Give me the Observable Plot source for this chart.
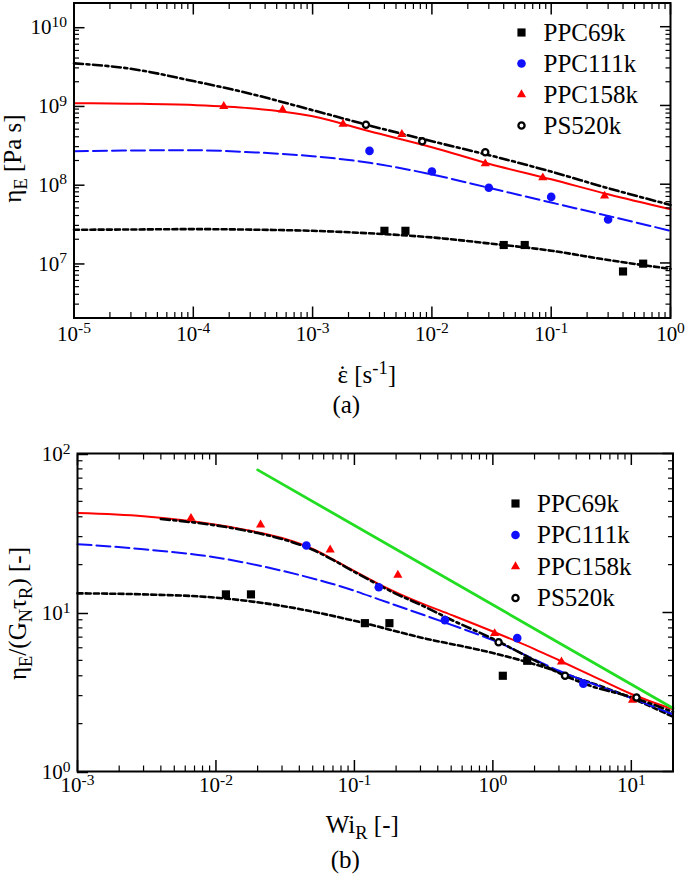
<!DOCTYPE html>
<html>
<head>
<meta charset="utf-8">
<script src="https://cdn.jsdelivr.net/npm/d3@7"></script>
<script src="https://cdn.jsdelivr.net/npm/@observablehq/plot@0.6"></script>
<style>
  html, body { margin: 0; padding: 0; background: #fff; }
  #chart svg { display: block; }
  #chart svg text { font-family: "Liberation Serif", serif; }
</style>
</head>
<body>
<div id="chart"></div>
<script>
// ---------------- DATA ----------------
const seriesNames = ["PPC69k", "PPC111k", "PPC158k", "PS520k"];

// Panel (a): elongational viscosity vs strain rate
const a69kX  = [0.0040, 0.0060, 0.040, 0.060, 0.40, 0.59];
const a69kY  = [2.56e7, 2.56e7, 1.69e7, 1.69e7, 7.8e6, 9.8e6];
const a111kX = [0.0030, 0.010, 0.030, 0.10, 0.30];
const a111kY = [2.65e8, 1.45e8, 9.0e7, 6.9e7, 3.56e7];
const a158kX = [1.8e-4, 5.6e-4, 1.8e-3, 5.6e-3, 0.028, 0.085, 0.28];
const a158kY = [9.75e8, 8.8e8, 5.8e8, 4.3e8, 1.82e8, 1.21e8, 7.1e7];
const a520kX = [2.8e-3, 8.3e-3, 0.028];
const a520kY = [5.7e8, 3.5e8, 2.55e8];

// Panel (a) model curves
const aCurveX    = [1e-5, 3e-5, 1e-4, 3e-4, 1e-3, 3e-3, 1e-2, 3e-2, 0.1, 0.3, 1];
const aCurve69k  = [2.64e7, 2.66e7, 2.69e7, 2.65e7, 2.56e7, 2.38e7, 2.11e7, 1.77e7, 1.43e7, 1.09e7, 8.4e6];
const aCurve111k = [2.63e8, 2.68e8, 2.70e8, 2.55e8, 2.27e8, 1.87e8, 1.33e8, 9.0e7, 5.85e7, 3.96e7, 2.56e7];
const aCurve158k = [1.069e9, 1.052e9, 1.012e9, 9.23e8, 7.28e8, 4.70e8, 2.95e8, 1.82e8, 1.153e8, 7.45e7, 4.80e7];
const aCurve520k = [3.43e9, 2.92e9, 2.04e9, 1.41e9, 8.71e8, 5.56e8, 3.51e8, 2.34e8, 1.445e8, 8.9e7, 5.46e7];

// Panel (b): normalised viscosity vs Rouse Weissenberg number
const b69kX  = [0.0118, 0.0179, 0.119, 0.179, 1.18, 1.77];
const b69kY  = [13.0, 13.0, 8.57, 8.57, 4.0, 4.97];
const b111kX = [0.045, 0.15, 0.45, 1.5, 4.5];
const b111kY = [26.4, 14.4, 8.95, 6.9, 3.57];
const b158kX = [0.0066, 0.021, 0.0668, 0.206, 1.03, 3.13, 10.2];
const b158kY = [39.2, 35.6, 24.8, 17.2, 7.38, 4.9, 2.81];
const b520kX = [1.10, 3.32, 10.9];
const b520kY = [6.5, 4.0, 2.92];

// Panel (b) model curves
const b69kCurveX  = [1e-3, 3e-3, 1e-2, 3e-2, 0.1, 0.3, 1, 2, 3, 10, 20];
const b69kCurve   = [13.2, 13.0, 12.4, 11.0, 8.87, 6.97, 5.56, 4.73, 4.22, 2.9, 2.21];
const b111kCurveX = [1e-3, 3e-3, 1e-2, 3e-2, 0.1, 0.15, 0.45, 1, 3, 10, 20];
const b111kCurve  = [26.9, 25.0, 22.2, 18.3, 13.7, 12.1, 8.65, 6.7, 4.3, 2.9, 2.29];
const b158kCurveX = [1e-3, 3e-3, 0.01, 0.02, 0.03, 0.05, 0.07, 0.1, 0.15, 0.2, 0.3, 0.5, 1, 2, 3, 5, 10, 20];
const b158kCurve  = [42.2, 40.3, 35.7, 32.0, 29.4, 25.1, 21.6, 18.2, 15.1, 13.4, 11.5, 9.66, 7.59, 5.89, 5.01, 4.07, 3.07, 2.46];
const b520kCurveX = [4e-3, 0.01, 0.02, 0.03, 0.05, 0.07, 0.1, 0.15, 0.2, 0.3, 0.5, 1, 2, 3.32, 5, 10, 20];
const b520kCurve  = [38.7, 35.3, 31.6, 29.0, 24.8, 21.4, 18.0, 14.9, 13.1, 11.2, 9.0, 6.84, 5.0, 4.0, 3.47, 2.94, 2.37];
const bSlopeX = [0.020, 20];
const bSlopeY = [78.9, 2.5];

// Ticks
const aXMajor = [1e-5, 1e-4, 1e-3, 1e-2, 1e-1, 1];
const aYMajor = [1e7, 1e8, 1e9, 1e10];
const bXMajor = [1e-3, 1e-2, 1e-1, 1, 10];
const bYMajor = [1, 10, 100];
const minorMult = [2, 3, 4, 5, 6, 7, 8, 9];

// ---------------- STYLES ----------------
const STY = {
  PPC69k:  {color: "#000000", symbol: "square",   r: 4.6, fill: "#000000", dash: "5,3.2",       width: 2.6},
  PPC111k: {color: "#1010ff", symbol: "circle",   r: 4.3, fill: "#1010ff", dash: "14,5",        width: 2.0},
  PPC158k: {color: "#ff0000", symbol: "triangle", r: 3.4, fill: "#ff0000", dash: null,          width: 2.0},
  PS520k:  {color: "#000000", symbol: "circle",   r: 3.1, fill: "#ffffff", dash: "9,3.5,3,3.5", width: 2.6}
};
const GREEN = "#22dd22";
const FONT = "Liberation Serif";
const SVG_STYLE = "font-family: 'Liberation Serif', serif; font-size: 21px; background: white; overflow: visible;";

// ---------------- HELPERS ----------------
const pts = (xs, ys) => xs.map((x, i) => [x, ys[i]]);
function minors(major, lo, hi) {
  const out = [];
  for (const m of [major[0] / 10, ...major]) for (const k of minorMult) {
    const v = m * k;
    if (v > lo * 1.0001 && v < hi * 0.9999) out.push(v);
  }
  return out;
}
const fmtPow = d => "10^" + Math.round(Math.log10(d));
const blank = () => "";

function axisMarks(xMajor, yMajor, xDom, yDom, xPad, yPad) {
  const xMinor = minors(xMajor, xDom[0], xDom[1]);
  const yMinor = minors(yMajor, yDom[0], yDom[1]);
  return [
    Plot.axisX({ticks: xMajor, tickSize: -11, tickPadding: xPad, tickFormat: fmtPow, label: null, fontSize: 21, fontFamily: FONT, strokeWidth: 1.5}),
    Plot.axisX({ticks: xMinor, tickSize: -5.5, tickFormat: blank, label: null, strokeWidth: 1.2}),
    Plot.axisX({anchor: "top", ticks: xMajor, tickSize: -11, tickFormat: blank, label: null, strokeWidth: 1.5}),
    Plot.axisX({anchor: "top", ticks: xMinor, tickSize: -5.5, tickFormat: blank, label: null, strokeWidth: 1.2}),
    Plot.axisY({ticks: yMajor, tickSize: -11, tickPadding: yPad, tickFormat: fmtPow, label: null, fontSize: 21, fontFamily: FONT, strokeWidth: 1.5, dy: 1}),
    Plot.axisY({ticks: yMinor, tickSize: -5.5, tickFormat: blank, label: null, strokeWidth: 1.2}),
    Plot.axisY({anchor: "right", ticks: yMajor, tickSize: -11, tickFormat: blank, label: null, strokeWidth: 1.5}),
    Plot.axisY({anchor: "right", ticks: yMinor, tickSize: -5.5, tickFormat: blank, label: null, strokeWidth: 1.2})
  ];
}

function curveMark(data, name) {
  const s = STY[name];
  return Plot.line(data, {stroke: s.color, strokeWidth: s.width, strokeDasharray: s.dash || undefined, curve: "monotone-x"});
}
function dotMark(data, name) {
  const s = STY[name];
  const o = {symbol: s.symbol, r: s.r, fill: s.fill};
  if (name === "PS520k") { o.stroke = s.color; o.strokeWidth = 2.3; }
  return Plot.dot(data, o);
}
function legendMarks(dxSym, dxText, dy0, step) {
  const marks = [];
  seriesNames.forEach((name, i) => {
    const s = STY[name];
    const o = {frameAnchor: "top-right", dx: dxSym, dy: dy0 + step * i, symbol: s.symbol, r: s.r, fill: s.fill};
    if (name === "PS520k") { o.stroke = s.color; o.strokeWidth = 2.3; }
    marks.push(Plot.dot([name], o));
    marks.push(Plot.text([name], {frameAnchor: "top-right", dx: dxText, dy: dy0 + step * i, text: d => d,
      textAnchor: "start", lineAnchor: "middle", fontSize: 25, fontFamily: FONT, fill: "black"}));
  });
  return marks;
}
function label(str, o) {
  return Plot.text([str], {text: d => d, textAnchor: "middle", lineAnchor: "bottom", fontSize: 25, fontFamily: FONT, fill: "black", ...o});
}

// Rich text: replace a text element's content with tspans (superscripts / subscripts / shifted marks)
function richText(el, parts, fs) {
  const t = d3.select(el);
  t.text(null);
  let off = 0;
  for (const [str, kind, dxEm] of parts) {
    const target = kind === "sup" ? -fs * 0.36 : kind === "sub" ? fs * 0.24 : 0;
    const sp = t.append("tspan").text(str);
    if (target - off !== 0) sp.attr("dy", (target - off) + "px");
    if (dxEm) sp.attr("dx", (dxEm * fs) + "px");
    if (kind === "sup" || kind === "sub") sp.attr("font-size", (fs * 0.74) + "px");
    off = target;
  }
}
function postProcess(svg, labelMap) {
  d3.select(svg).selectAll("text").each(function () {
    this.setAttribute("font-family", FONT);
    const c = this.textContent;
    const m = /^10\^(-?\d+)$/.exec(c);
    if (m) {
      richText(this, [["10", null], [m[1], "sup"]], 21);
    } else if (labelMap[c]) {
      richText(this, labelMap[c].parts, labelMap[c].fs);
    }
  });
}

// ---------------- PANEL (a) ----------------
const aXDom = [1e-5, 1];
const aYDom = [2e6, 2e10];
const labAy = "ηE [Pa s]";
const labAx = "ε̇ [s-1]";

const plotA = Plot.plot({
  width: 685, height: 430,
  marginLeft: 73.5, marginRight: 15, marginTop: 2.5, marginBottom: 112.5,
  style: SVG_STYLE,
  x: {type: "log", domain: aXDom},
  y: {type: "log", domain: aYDom},
  marks: [
    curveMark(pts(aCurveX, aCurve69k), "PPC69k"),
    curveMark(pts(aCurveX, aCurve111k), "PPC111k"),
    curveMark(pts(aCurveX, aCurve158k), "PPC158k"),
    curveMark(pts(aCurveX, aCurve520k), "PS520k"),
    dotMark(pts(a69kX, a69kY), "PPC69k"),
    dotMark(pts(a111kX, a111kY), "PPC111k"),
    dotMark(pts(a158kX, a158kY), "PPC158k"),
    dotMark(pts(a520kX, a520kY), "PS520k"),
    ...axisMarks(aXMajor, aYMajor, aXDom, aYDom, 19, 18),
    Plot.frame({stroke: "black", strokeWidth: 2}),
    ...legendMarks(-149, -127, 29.5, 31),
    label(labAy, {frameAnchor: "left", dx: -53.5, dy: -2, rotate: -90}),
    label(labAx, {frameAnchor: "bottom", dx: -5.5, dy: 64.5}),
    label("(a)", {frameAnchor: "bottom", dx: -26, dy: 94.5})
  ]
});

// ---------------- PANEL (b) ----------------
const bXDom = [1e-3, 20];
const bYDom = [1, 100];
const labBy = "ηE/(GNτR) [-]";
const labBx = "WiR [-]";

const plotB = Plot.plot({
  width: 685, height: 444,
  marginLeft: 77, marginRight: 12.5, marginTop: 23, marginBottom: 103,
  style: SVG_STYLE,
  x: {type: "log", domain: bXDom},
  y: {type: "log", domain: bYDom},
  marks: [
    curveMark(pts(b69kCurveX, b69kCurve), "PPC69k"),
    curveMark(pts(b111kCurveX, b111kCurve), "PPC111k"),
    curveMark(pts(b158kCurveX, b158kCurve), "PPC158k"),
    curveMark(pts(b520kCurveX, b520kCurve), "PS520k"),
    Plot.line(pts(bSlopeX, bSlopeY), {stroke: GREEN, strokeWidth: 2.8}),
    dotMark(pts(b69kX, b69kY), "PPC69k"),
    dotMark(pts(b111kX, b111kY), "PPC111k"),
    dotMark(pts(b158kX, b158kY), "PPC158k"),
    dotMark(pts(b520kX, b520kY), "PS520k"),
    ...axisMarks(bXMajor, bYMajor, bXDom, bYDom, 17, 18),
    Plot.frame({stroke: "black", strokeWidth: 2}),
    ...legendMarks(-157.5, -136, 50, 31.5),
    label(labBy, {frameAnchor: "left", dx: -52, dy: 1, rotate: -90}),
    label(labBx, {frameAnchor: "bottom", dx: -13, dy: 61}),
    label("(b)", {frameAnchor: "bottom", dx: -30, dy: 96})
  ]
});

const labels = {
  [labAy]: {fs: 25, parts: [["η", null], ["E", "sub"], [" [Pa s]", null]]},
  // epsilon with a spacing dot placed over it, then the unit
  [labAx]: {fs: 25, parts: [["ε", null], ["˙", null, -0.387], [" [s", null, 0.054], ["-1", "sup"], ["]", null]]},
  [labBy]: {fs: 25, parts: [["η", null], ["E", "sub"], ["/(G", null], ["N", "sub"], ["τ", null], ["R", "sub"], [") [-]", null]]},
  [labBx]: {fs: 25, parts: [["Wi", null], ["R", "sub"], [" [-]", null]]}
};
postProcess(plotA, labels);
postProcess(plotB, labels);

const root = document.getElementById("chart");
root.appendChild(plotA);
root.appendChild(plotB);
</script>
</body>
</html>
